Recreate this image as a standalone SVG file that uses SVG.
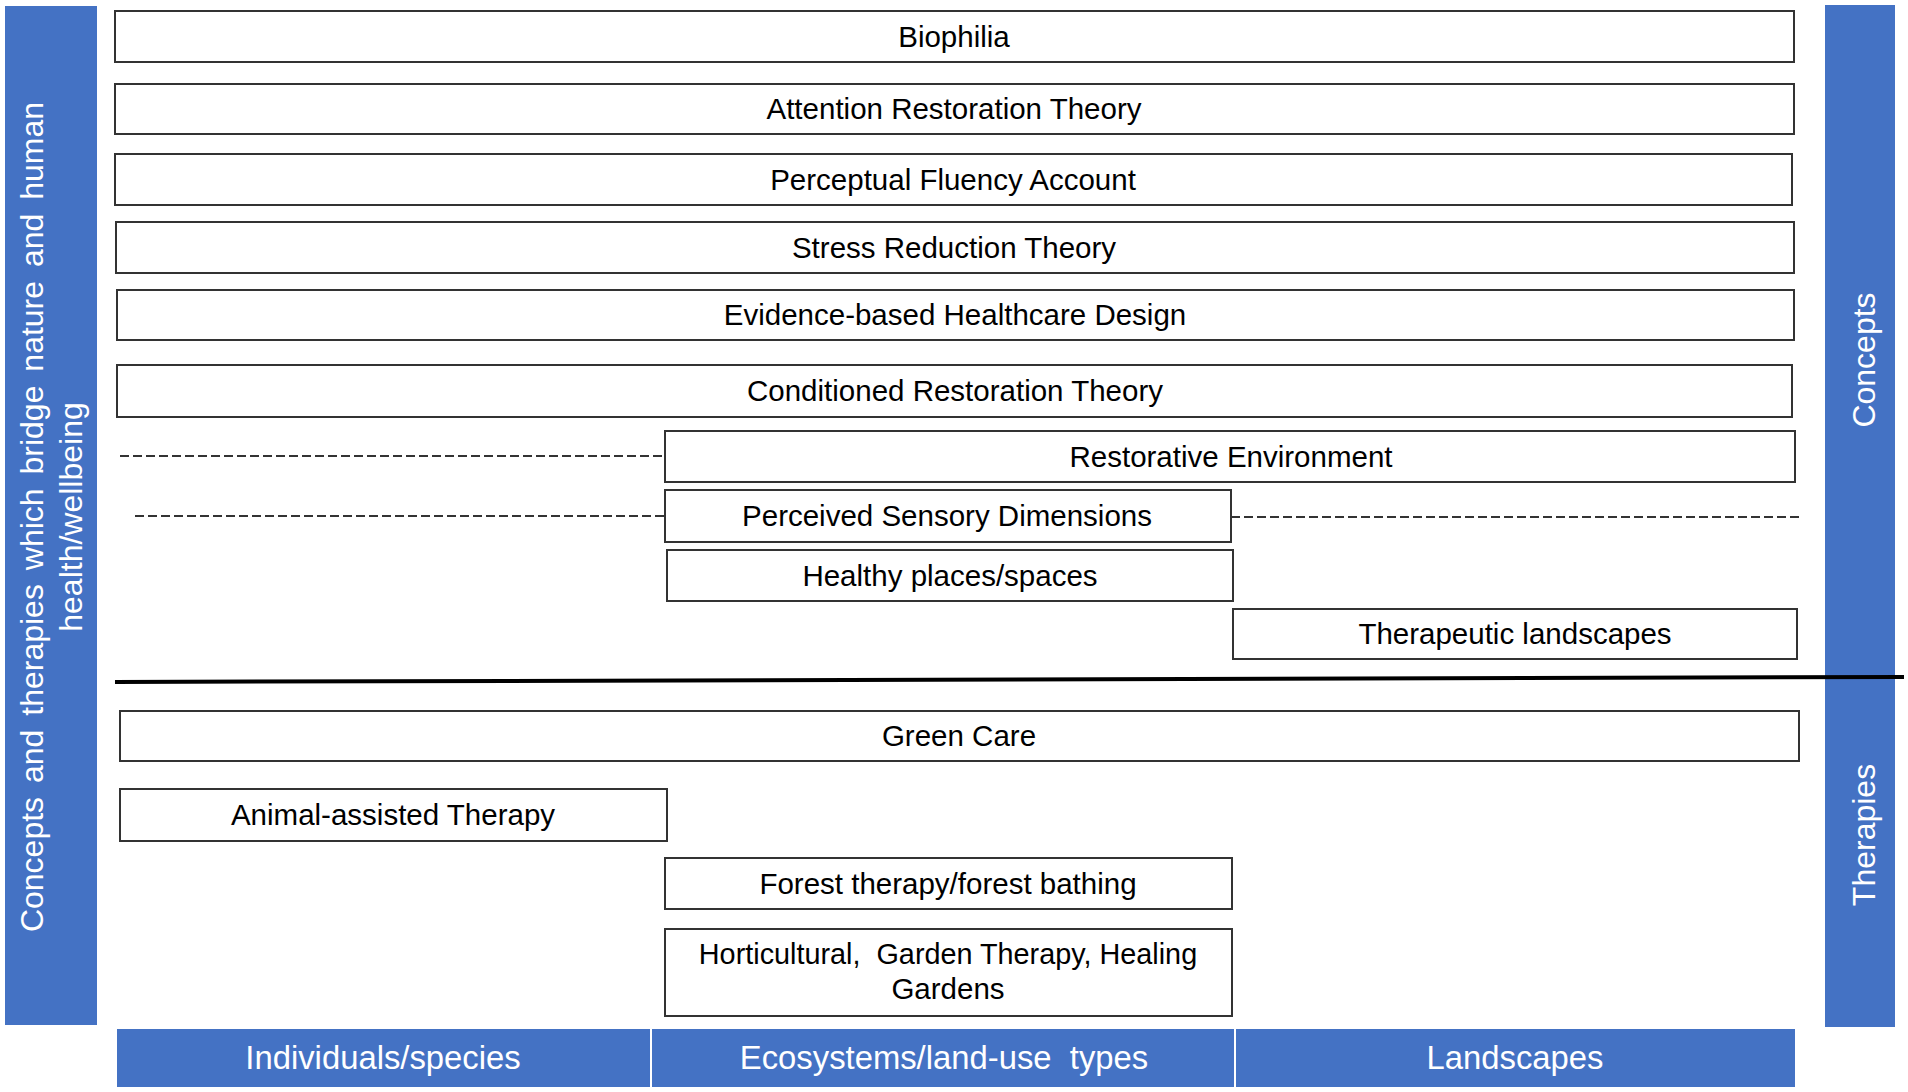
<svg xmlns="http://www.w3.org/2000/svg" width="1908" height="1092" viewBox="0 0 1908 1092">
<style>
.box{fill:#ffffff;stroke:#333333;stroke-width:2}
.lbl{font-family:"Liberation Sans",Arial,sans-serif;font-size:29.5px;fill:#000000;text-anchor:middle}
.band{fill:#4472C4}
.wl{font-family:"Liberation Sans",Arial,sans-serif;font-size:32px;fill:#ffffff;text-anchor:middle}
.bl{font-family:"Liberation Sans",Arial,sans-serif;font-size:32.8px;fill:#ffffff;text-anchor:middle}
.dash{stroke:#333333;stroke-width:2.2;stroke-dasharray:9 4;fill:none}
</style>
<rect width="1908" height="1092" fill="#ffffff"/>

<g id="left-bar">
<rect class="band" x="5" y="6" width="92" height="1019"/>
<text class="wl" transform="translate(43,517) rotate(-90)" word-spacing="5">Concepts and therapies which bridge nature and human</text>
<text class="wl" transform="translate(82,517) rotate(-90)">health/wellbeing</text>
</g>

<g id="right-bar">
<rect class="band" x="1825" y="5" width="70" height="1022"/>
<text class="wl" transform="translate(1875,360) rotate(-90)">Concepts</text>
<text class="wl" transform="translate(1875,835) rotate(-90)">Therapies</text>
</g>

<g id="bottom-bar">
<rect class="band" x="117" y="1029" width="1678" height="58"/>
<line x1="651" y1="1029" x2="651" y2="1087" stroke="#ffffff" stroke-width="2"/>
<line x1="1235" y1="1029" x2="1235" y2="1087" stroke="#ffffff" stroke-width="2"/>
<text class="bl" x="383" y="1069">Individuals/species</text>
<text class="bl" x="944" y="1069" xml:space="preserve">Ecosystems/land-use  types</text>
<text class="bl" x="1515" y="1069">Landscapes</text>
</g>

<g id="connectors">
<line class="dash" x1="120" y1="456" x2="665" y2="456"/>
<line class="dash" x1="135" y1="516" x2="665" y2="516"/>
<line class="dash" x1="1231" y1="517" x2="1800" y2="517"/>
<line x1="115" y1="682" x2="1904" y2="677" stroke="#000000" stroke-width="4"/>
</g>

<g id="biophilia"><rect class="box" x="115" y="11" width="1679" height="51"/><text class="lbl" x="954" y="47">Biophilia</text></g>
<g id="art"><rect class="box" x="115" y="84" width="1679" height="50"/><text class="lbl" x="954" y="119">Attention Restoration Theory</text></g>
<g id="pfa"><rect class="box" x="115" y="154" width="1677" height="51"/><text class="lbl" x="953" y="190">Perceptual Fluency Account</text></g>
<g id="srt"><rect class="box" x="116" y="222" width="1678" height="51"/><text class="lbl" x="954" y="258">Stress Reduction Theory</text></g>
<g id="ebhd"><rect class="box" x="117" y="290" width="1677" height="50"/><text class="lbl" x="955" y="325">Evidence-based Healthcare Design</text></g>
<g id="crt"><rect class="box" x="117" y="365" width="1675" height="52"/><text class="lbl" x="955" y="401">Conditioned Restoration Theory</text></g>
<g id="restorative-environment"><rect class="box" x="665" y="431" width="1130" height="51"/><text class="lbl" x="1231" y="467">Restorative Environment</text></g>
<g id="perceived-sensory"><rect class="box" x="665" y="490" width="566" height="52"/><text class="lbl" x="947" y="526">Perceived Sensory Dimensions</text></g>
<g id="healthy-places"><rect class="box" x="667" y="550" width="566" height="51"/><text class="lbl" x="950" y="586">Healthy places/spaces</text></g>
<g id="therapeutic-landscapes"><rect class="box" x="1233" y="609" width="564" height="50"/><text class="lbl" x="1515" y="644">Therapeutic landscapes</text></g>
<g id="green-care"><rect class="box" x="120" y="711" width="1679" height="50"/><text class="lbl" x="959" y="746">Green Care</text></g>
<g id="animal-assisted"><rect class="box" x="120" y="789" width="547" height="52"/><text class="lbl" x="393" y="825">Animal-assisted Therapy</text></g>
<g id="forest-therapy"><rect class="box" x="665" y="858" width="567" height="51"/><text class="lbl" x="948" y="894">Forest therapy/forest bathing</text></g>
<g id="horticultural"><rect class="box" x="665" y="929" width="567" height="87"/><text class="lbl" x="948" y="964" style="font-size:28.8px" xml:space="preserve">Horticultural,  Garden Therapy, Healing</text><text class="lbl" x="948" y="999">Gardens</text></g>
</svg>
